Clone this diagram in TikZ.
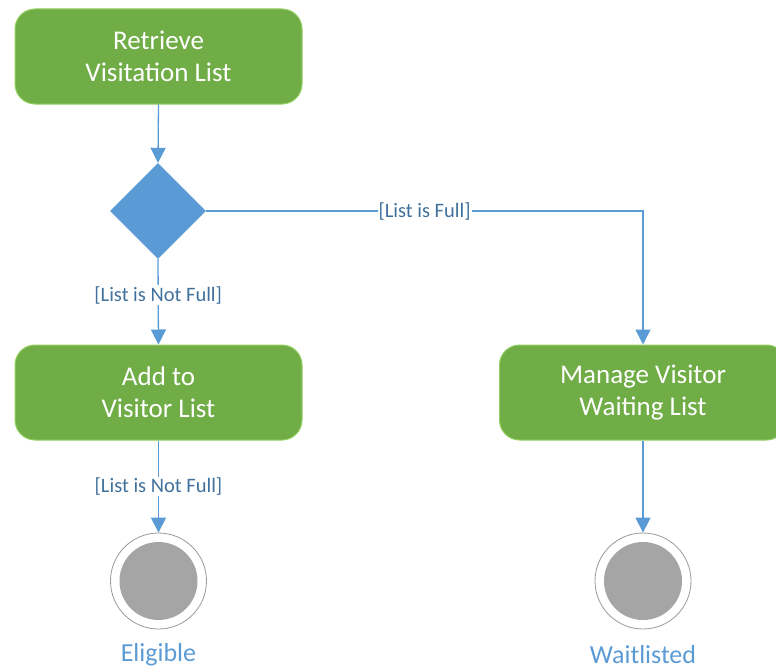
\documentclass[tikz,border=0pt]{standalone}
\usepackage{fontspec}
\setmainfont{Carlito}
\usetikzlibrary{arrows.meta,positioning,shapes.geometric}
\definecolor{actgreen}{HTML}{70AD47}
\definecolor{actedge}{HTML}{92D060}
\definecolor{flowblue}{HTML}{5B9BD5}
\definecolor{guardblue}{HTML}{41719C}
\definecolor{endgray}{HTML}{A5A5A5}

\begin{document}
\begin{tikzpicture}[x=1pt,y=-1pt,>={Triangle[width=15pt,length=15pt]},
  activity/.style={rectangle,rounded corners=20pt,fill=actgreen,draw=actedge,line width=1pt,
    minimum width=287pt,minimum height=95pt,text=white,align=center,
    font=\fontsize{27}{32}\selectfont},
  decision/.style={diamond,fill=flowblue,minimum width=96pt,minimum height=96pt,inner sep=0pt},
  final/.style={circle,draw=gray!80,line width=0.8pt,fill=white,minimum size=96pt,inner sep=0pt,
    path picture={\fill[endgray] (path picture bounding box.center) circle (39pt);}},
  flow/.style={draw=flowblue,line width=1.3pt,->},
  guard/.style={fill=white,text=guardblue,inner sep=1pt,font=\fontsize{20.5}{24}\selectfont},
  endname/.style={text=flowblue,font=\fontsize{26}{30}\selectfont}]
\useasboundingbox (0,0) rectangle (776,669);

% activities
\node[activity] (retrieve) at (158.5,56.5) {Retrieve\\Visitation List};
\node[decision] (check) at (158,211) {};
\node[activity] (add) at (158.5,392.5) {Add to\\Visitor List};
\node[activity] (manage) at (643,392.5) {Manage Visitor\\Waiting List};

% final states
\node[final] (eligible) at (158.5,581) {};
\node[final] (waitlisted) at (643,581) {};
\node[endname] (eligibletext) at (158.5,655) {Eligible};
\node[endname] (waitlistedtext) at (643,655) {Waitlisted};

% flows
\draw[flow] (retrieve.south) -- (check.north);
\draw[flow] (check.south) -- node[guard,pos=0.42] {[List is Not Full]} (add.north);
\draw[flow] (check.east) -- node[guard] {[List is Full]} (check.east -| manage.north) -- (manage.north);
\draw[flow] (add.south) -- node[guard] {[List is Not Full]} (eligible.north);
\draw[flow] (manage.south) -- (waitlisted.north);
\end{tikzpicture}
\end{document}
